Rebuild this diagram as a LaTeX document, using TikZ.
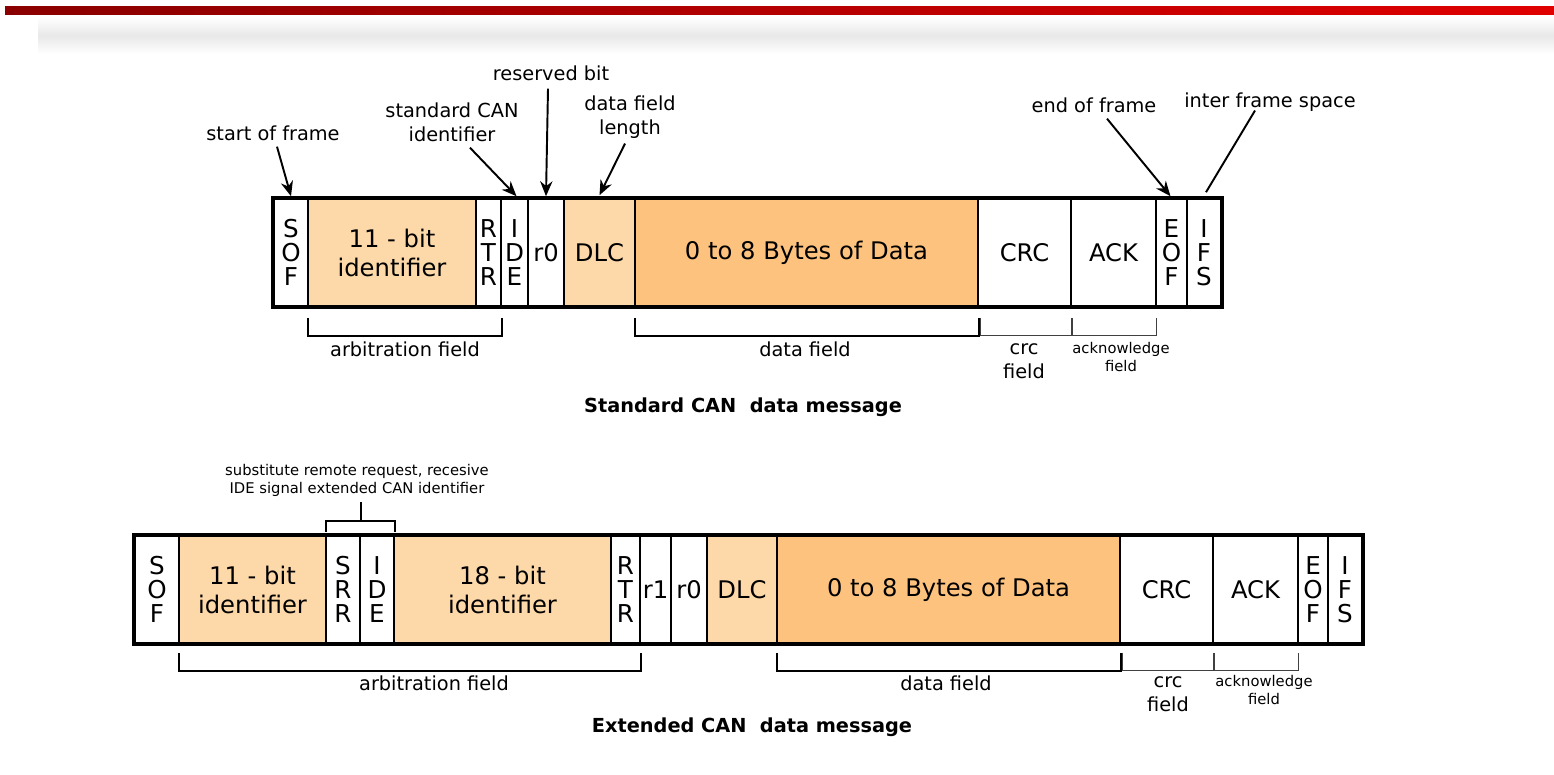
\documentclass[tikz,border=0pt]{standalone}
\usepackage{fontspec}
\setmainfont{DejaVu Sans}
\usetikzlibrary{arrows.meta, calc}

\definecolor{idfill}{HTML}{FDD8A9}
\definecolor{datafill}{HTML}{FDC27E}
\definecolor{barleft}{HTML}{8A0000}
\definecolor{barright}{HTML}{E00000}

\tikzset{
  cell/.style={draw, fill=white, line width=0.9pt, inner sep=0pt, minimum height=2.14cm, align=center, font=\fontsize{13.8}{16.5}\selectfont},
  bitcell/.style={cell, font=\fontsize{14}{13.6}\selectfont},
  framebox/.style={line width=2.3pt},
  fieldbrk/.style={line width=1.1pt},
  thinbrk/.style={line width=0.7pt, draw=black!75},
  smalltxt/.style={font=\fontsize{8.4}{10.2}\selectfont, align=center},
  msgtitle/.style={font=\fontsize{11}{13}\selectfont\bfseries},
}

\begin{document}
\begin{tikzpicture}[x=0.02cm, y=0.02cm, >={Stealth[length=8.5pt, width=7pt]}, every node/.style={font=\fontsize{11}{13.7}\selectfont}]
  \useasboundingbox (0,0) rectangle (1554,774);
  % slide header bar
  \shade[left color=barleft, right color=barright] (5,759) rectangle (1554,767);
  \shade[top color=white, bottom color=white, middle color=black!9] (38,720) rectangle (1554,757);

  % standard frame
  \node[bitcell, minimum width=0.68cm] (ssof) at (291,521.5) {S\\O\\F};
  \node[cell, fill=idfill, minimum width=3.36cm] (sid) at (392,521.5) {11 - bit\\identifier};
  \node[bitcell, minimum width=0.50cm] (srtr) at (488.5,521.5) {R\\T\\R};
  \node[bitcell, minimum width=0.54cm] (side) at (514.5,521.5) {I\\D\\E};
  \node[cell, minimum width=0.72cm] (sr0) at (546,521.5) {r0};
  \node[cell, fill=idfill, minimum width=1.42cm] (sdlc) at (599.5,521.5) {DLC};
  \node[cell, fill=datafill, minimum width=6.86cm] (sdata) at (806.5,521.5) {0 to 8 Bytes of Data};
  \node[cell, minimum width=1.86cm] (scrc) at (1024.5,521.5) {CRC};
  \node[cell, minimum width=1.70cm] (sack) at (1113.5,521.5) {ACK};
  \node[bitcell, minimum width=0.62cm] (seof) at (1171.5,521.5) {E\\O\\F};
  \node[bitcell, minimum width=0.68cm] (sifs) at (1204,521.5) {I\\F\\S};
  \draw[framebox] (ssof.north west) rectangle (sifs.south east);

  \node (lsof) at (273,641) {start of frame};
  \node[align=center] (lstd) at (452,652) {standard CAN\\identifier};
  \node (lres) at (551,701) {reserved bit};
  \node[align=center] (ldlc) at (630,657) {data field\\length};
  \node (leof) at (1094,669) {end of frame};
  \node (lifs) at (1270,672) {inter frame space};
  \draw[->, line width=1.1pt] ($(lsof.south)+(4,0)$) -- ($(ssof.north)+(0,2)$);
  \draw[->, line width=1.1pt] ($(lstd.south)+(18,0)$) -- ($(side.north)+(2,2)$);
  \draw[->, line width=1.1pt] ($(lres.south)+(-3,-2)$) -- ($(sr0.north)+(0,2)$);
  \draw[->, line width=1.1pt] ($(ldlc.south)+(-5,1)$) -- ($(sdlc.north)+(0,3)$);
  \draw[->, line width=1.1pt] ($(leof.south)+(13,0)$) -- ($(seof.north)+(-1,2)$);
  \draw[line width=1.1pt] ($(lifs.south)+(-15,7)$) -- ($(sifs.north)+(2,6)$);

  \draw[fieldbrk] ($(sid.south west)+(1,-11)$) |- ($(srtr.south east)+(0,-29)$) -- ++(0,18);
  \draw[fieldbrk] ($(sdata.south west)+(1,-11)$) |- ($(sdata.south east)+(0,-29)$) -- ++(0,18);
  \draw[thinbrk] ($(scrc.south west)+(3,-11)$) |- ($(scrc.south east)+(0,-29)$) -- ++(0,18);
  \draw[thinbrk] ($(sack.south west)+(2,-11)$) |- ($(sack.south east)+(0,-29)$) -- ++(0,18);
  \node (sarb) at (405,425) {arbitration field};
  \node (sdf) at (805,425) {data field};
  \node[align=center] (scf) at (1024,413) {crc\\field};
  \node[smalltxt] (saf) at (1121,417) {acknowledge\\field};
  \node[msgtitle] (stitle) at (743,367) {Standard CAN\ \ data message};

  % extended frame
  \node[bitcell, minimum width=0.88cm] (esof) at (157,184.5) {S\\O\\F};
  \node[cell, fill=idfill, minimum width=2.94cm] (eid) at (252.5,184.5) {11 - bit\\identifier};
  \node[bitcell, minimum width=0.68cm] (esrr) at (343,184.5) {S\\R\\R};
  \node[bitcell, minimum width=0.68cm] (eide) at (377,184.5) {I\\D\\E};
  \node[cell, fill=idfill, minimum width=4.34cm] (eidb) at (502.5,184.5) {18 - bit\\identifier};
  \node[bitcell, minimum width=0.58cm] (ertr) at (625.5,184.5) {R\\T\\R};
  \node[cell, minimum width=0.62cm] (er1) at (655.5,184.5) {r1};
  \node[cell, minimum width=0.72cm] (er0) at (689,184.5) {r0};
  \node[cell, fill=idfill, minimum width=1.40cm] (edlc) at (742,184.5) {DLC};
  \node[cell, fill=datafill, minimum width=6.86cm] (edata) at (948.5,184.5) {0 to 8 Bytes of Data};
  \node[cell, minimum width=1.86cm] (ecrc) at (1166.5,184.5) {CRC};
  \node[cell, minimum width=1.70cm] (eack) at (1255.5,184.5) {ACK};
  \node[bitcell, minimum width=0.60cm] (eeof) at (1313,184.5) {E\\O\\F};
  \node[bitcell, minimum width=0.68cm] (eifs) at (1345,184.5) {I\\F\\S};
  \draw[framebox] (esof.north west) rectangle (eifs.south east);

  \node[smalltxt] (lsrr) at (357,293.5) {substitute remote request, recesive\\IDE signal extended CAN identifier};
  \draw[fieldbrk] ($(esrr.north west)+(1,3)$) |- ($(eide.north east)+(0,14)$) -- ++(0,-11);
  \draw[fieldbrk] ($(esrr.north east)+(0,14)$) -- ++(0,19);

  \draw[fieldbrk] ($(eid.south west)+(1,-9)$) |- ($(ertr.south east)+(0,-27)$) -- ++(0,18);
  \draw[fieldbrk] ($(edata.south west)+(1,-9)$) |- ($(edata.south east)+(0,-27)$) -- ++(0,18);
  \draw[thinbrk] ($(ecrc.south west)+(3,-9)$) |- ($(ecrc.south east)+(0,-27)$) -- ++(0,18);
  \draw[thinbrk] ($(eack.south west)+(2,-9)$) |- ($(eack.south east)+(0,-27)$) -- ++(0,18);
  \node (earb) at (434,91) {arbitration field};
  \node (edf) at (946,91) {data field};
  \node[align=center] (ecf) at (1168,79.5) {crc\\field};
  \node[smalltxt] (eaf) at (1264,84) {acknowledge\\field};
  \node[msgtitle] (etitle) at (752,47) {Extended CAN\ \ data message};
\end{tikzpicture}
\end{document}
